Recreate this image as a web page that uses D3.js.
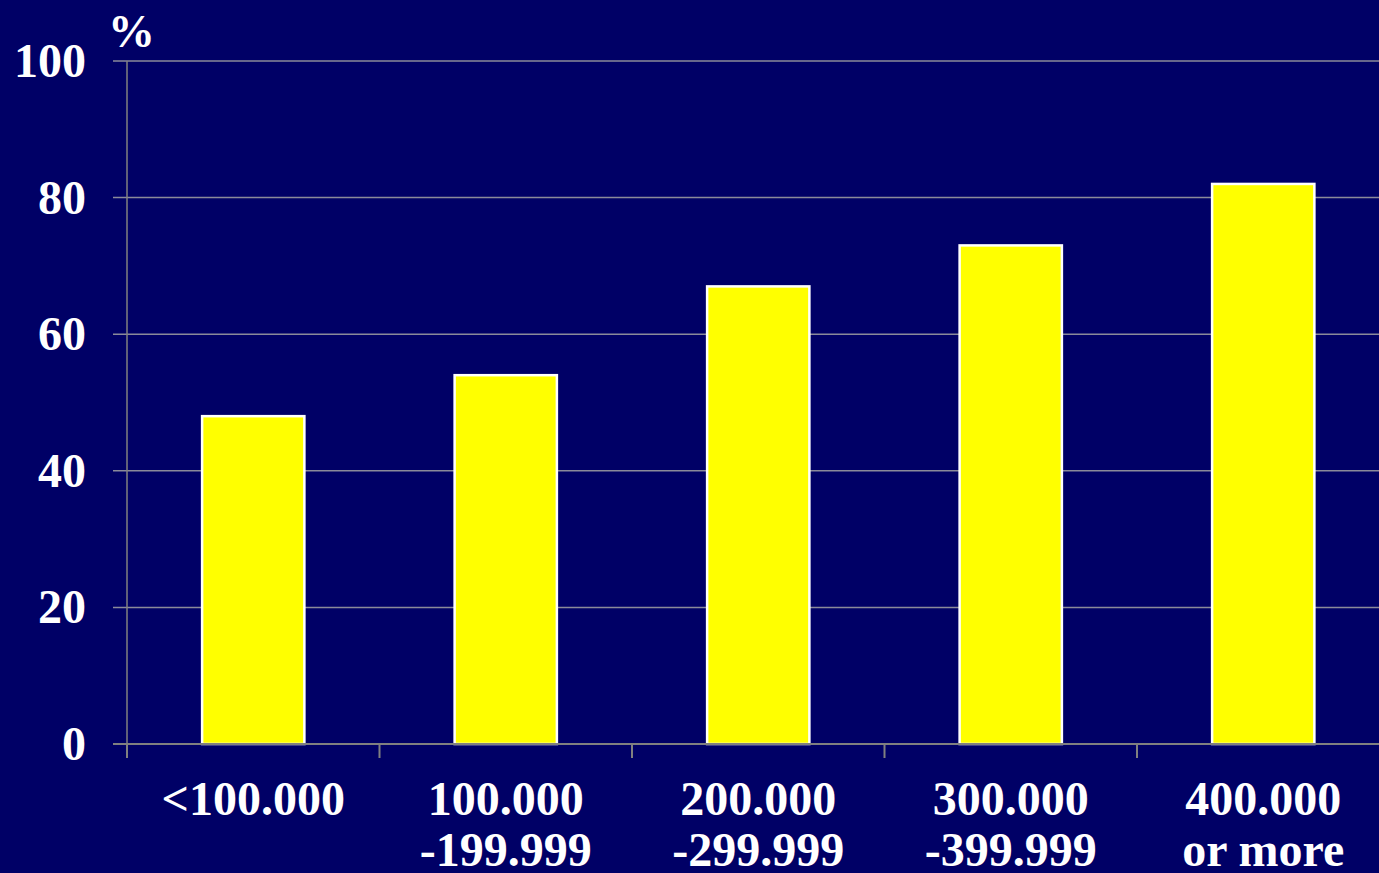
<!DOCTYPE html>
<html>
<head>
<meta charset="utf-8">
<script src="https://cdn.jsdelivr.net/npm/d3@7"></script>
<style>
  html, body { margin: 0; padding: 0; background: #000066; overflow: hidden; }
  svg { display: block; }
  text { font-family: "Liberation Serif", "Times New Roman", serif; font-weight: bold; fill: #ffffff; }
</style>
</head>
<body>
<svg id="chart" width="1379" height="873"></svg>
<script>
// Income brackets and share (%) for each
const categories = [["<100.000"], ["100.000", "-199.999"], ["200.000", "-299.999"], ["300.000", "-399.999"], ["400.000", "or more"]];
const values = [48, 54, 67, 73, 82];
const yTicks = [0, 20, 40, 60, 80, 100];
const unitLabel = "%";

const svg = d3.select("#chart");
const W = 1379, H = 873;
const plotLeft = 127, plotRight = 1389.5, plotTop = 61, plotBottom = 744;

svg.append("rect").attr("width", W).attr("height", H).attr("fill", "#000066");

const x = d3.scaleBand()
  .domain(d3.range(categories.length))
  .range([plotLeft, plotRight])
  .paddingInner(0.595)
  .paddingOuter(0.2975);

const band = (plotRight - plotLeft) / categories.length;

const y = d3.scaleLinear().domain([0, 100]).range([plotBottom, plotTop]);

// horizontal grid lines
svg.append("g")
  .selectAll("line")
  .data(yTicks.filter(d => d > 0))
  .join("line")
  .attr("x1", plotLeft - 14).attr("x2", W)
  .attr("y1", d => y(d)).attr("y2", d => y(d))
  .attr("stroke", "#8a8a9a").attr("stroke-width", 1.5);

// bars
svg.append("g")
  .selectAll("rect")
  .data(values)
  .join("rect")
  .attr("x", (d, i) => x(i))
  .attr("width", x.bandwidth())
  .attr("y", d => y(d))
  .attr("height", d => plotBottom - y(d))
  .attr("fill", "#ffff00")
  .attr("stroke", "#ffffff")
  .attr("stroke-width", 2.5);

// axis lines
svg.append("line")
  .attr("x1", plotLeft).attr("x2", plotLeft)
  .attr("y1", plotTop).attr("y2", plotBottom)
  .attr("stroke", "#808080").attr("stroke-width", 1.5);
svg.append("line")
  .attr("x1", plotLeft - 14).attr("x2", W)
  .attr("y1", plotBottom).attr("y2", plotBottom)
  .attr("stroke", "#808080").attr("stroke-width", 2);

// x tick marks at band boundaries
svg.append("g")
  .selectAll("line")
  .data(d3.range(categories.length + 1))
  .join("line")
  .attr("x1", i => plotLeft + i * band).attr("x2", i => plotLeft + i * band)
  .attr("y1", plotBottom).attr("y2", plotBottom + 14)
  .attr("stroke", "#808080").attr("stroke-width", 2);

// y tick labels
svg.append("g")
  .selectAll("text")
  .data(yTicks)
  .join("text")
  .attr("x", 86)
  .attr("y", d => y(d) + 16)
  .attr("text-anchor", "end")
  .attr("font-size", 48)
  .text(d => d);

// unit label
svg.append("text")
  .attr("x", 108).attr("y", 47)
  .attr("font-size", 47)
  .text(unitLabel);

// x category labels
const xl = svg.append("g")
  .selectAll("text")
  .data(categories)
  .join("text")
  .attr("x", (d, i) => x(i) + x.bandwidth() / 2)
  .attr("y", 815)
  .attr("text-anchor", "middle")
  .attr("font-size", 48);
xl.selectAll("tspan")
  .data(d => d)
  .join("tspan")
  .attr("x", function () { return d3.select(this.parentNode).attr("x"); })
  .attr("dy", (d, i) => i === 0 ? 0 : 51)
  .text(d => d);
</script>
</body>
</html>
